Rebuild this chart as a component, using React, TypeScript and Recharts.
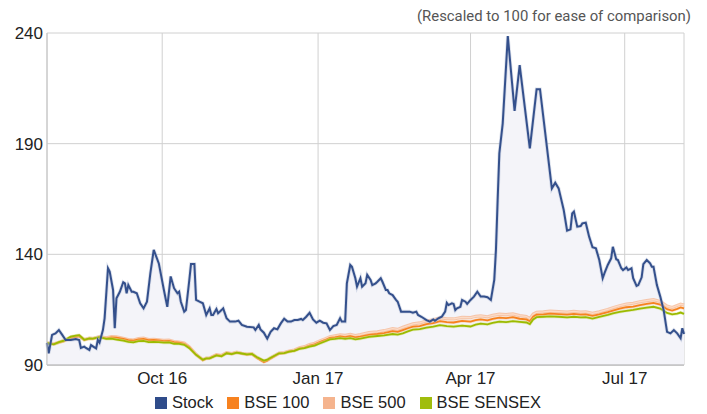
import React from 'react';
import { ComposedChart, Area, Line, XAxis, YAxis, CartesianGrid } from 'recharts';

// x values are calendar days counted from 25 Jul 2016
const stockDays = [
  0, 1, 3, 5, 7, 9, 11, 14, 17, 19, 20, 22, 23, 25, 26, 28, 29, 30, 31, 33, 34, 36, 37, 39, 40, 41, 43, 45, 46, 47,
  48, 50, 51, 53, 55, 57, 59, 61, 63, 66, 69, 71, 73, 75, 77, 78, 79, 81, 82, 84, 85, 87, 88, 90, 92, 94, 96, 97, 98,
  100, 101, 103, 104, 106, 108, 111, 113, 115, 118, 122, 123, 125, 126, 128, 130, 132, 134, 136, 138, 140, 142, 144,
  146, 148, 150, 151, 153, 155, 157, 159, 161, 163, 165, 167, 169, 171, 173, 174, 176, 177, 179, 180, 182, 183, 185,
  186, 188, 189, 191, 192, 194, 195, 197, 198, 200, 201, 202, 204, 206, 207, 209, 211, 214, 216, 218, 219, 221, 224,
  226, 228, 229, 231, 233, 235, 236, 237, 239, 240, 241, 242, 244, 245, 247, 248, 250, 252, 254, 256, 258, 260, 262,
  264, 265, 266, 267, 269, 272, 276, 279, 285, 289, 291, 298, 300, 302, 305, 307, 309, 310, 311, 313, 315, 316, 318,
  320, 322, 324, 326, 328, 329, 331, 333, 334, 336, 337, 339, 340, 342, 343, 345, 346, 348, 349, 351, 352, 354, 356,
  357, 358, 360, 362, 364, 366, 368, 370, 372, 374, 375, 376,
];
const stockValues = [
  100.0, 95.3, 103.6, 104.3, 105.8, 103.6, 101.3, 101.3, 101.7, 101.3, 97.7, 98.3, 97.7, 96.8, 99.0, 98.0, 97.5, 101.3,
  100.1, 105.8, 111.1, 133.7, 132.2, 123.9, 106.6, 120.1, 123.1, 127.4, 126.9, 122.4, 126.1, 123.1, 123.1, 122.4, 117.9,
  115.6, 118.6, 131.4, 142.0, 135.9, 123.9, 116.3, 130.0, 124.7, 122.4, 123.1, 118.6, 114.1, 114.8, 128.4, 135.6, 135.6,
  119.4, 118.6, 117.9, 112.6, 115.6, 112.6, 112.6, 115.3, 113.4, 114.8, 115.6, 111.1, 109.6, 109.6, 110.0, 108.1, 107.3,
  107.0, 105.8, 108.1, 106.1, 104.6, 101.9, 105.0, 106.6, 106.1, 108.8, 110.9, 109.6, 109.6, 110.3, 110.3, 110.8, 110.3,
  111.8, 113.6, 110.6, 109.1, 110.0, 109.1, 108.8, 105.8, 107.6, 108.1, 111.1, 109.6, 109.6, 126.9, 135.2, 134.4, 129.2,
  125.4, 129.2, 125.4, 126.9, 130.7, 128.4, 126.1, 126.9, 127.6, 129.2, 127.6, 123.9, 123.9, 122.4, 121.6, 119.4, 118.6,
  114.1, 114.1, 114.1, 113.6, 114.1, 112.6, 111.8, 110.3, 109.6, 110.6, 110.0, 111.1, 111.8, 114.1, 118.1, 117.1, 117.9,
  117.6, 114.8, 115.6, 116.3, 119.4, 118.6, 117.6, 119.4, 120.9, 123.1, 120.9, 120.9, 120.6, 119.4, 128.4, 142.0, 164.5,
  185.6, 199.2, 238.6, 204.8, 225.5, 187.9, 214.6, 214.6, 169.8, 172.4, 169.8, 160.0, 150.7, 151.3, 158.5, 159.3, 152.5,
  152.8, 154.0, 154.3, 148.0, 143.2, 142.7, 137.4, 129.2, 131.4, 135.2, 138.2, 143.4, 137.8, 137.4, 133.7, 132.9, 134.1,
  132.9, 133.7, 129.2, 125.7, 126.1, 129.6, 135.6, 137.4, 135.9, 134.4, 134.4, 126.1, 120.9, 114.8, 105.0, 104.3, 105.8,
  104.3, 102.1, 106.6, 104.0,
];

const indexDays = [
  0, 2, 4, 7, 10, 14, 17, 19, 22, 25, 27, 31, 35, 38, 41, 45, 48, 51, 54, 57, 60, 63, 66, 69, 72, 75, 78, 81, 84, 88,
  92, 94, 96, 100, 103, 106, 109, 112, 115, 118, 121, 124, 128, 130, 132, 137, 140, 143, 146, 149, 152, 155, 158, 161,
  164, 167, 170, 173, 176, 179, 182, 185, 190, 195, 199, 204, 207, 210, 213, 216, 220, 224, 228, 232, 236, 240, 245,
  250, 253, 256, 260, 263, 267, 271, 275, 279, 283, 285, 287, 289, 293, 297, 302, 307, 311, 315, 318, 322, 326, 331,
  334, 338, 342, 346, 350, 354, 358, 362, 366, 369, 372, 374, 376,
];
const bse100 = [
  100.0, 99.6, 99.4, 100.2, 100.8, 102.3, 102.7, 103.0, 101.3, 101.9, 101.8, 102.6, 102.0, 102.5, 102.4, 101.8, 101.2,
  101.0, 101.6, 101.8, 101.2, 101.3, 101.1, 100.8, 100.9, 100.3, 100.1, 99.6, 98.0, 94.6, 92.2, 92.9, 93.0, 94.5, 94.1,
  95.4, 95.0, 95.6, 95.1, 94.7, 94.9, 93.2, 91.4, 92.0, 93.0, 95.2, 95.4, 96.1, 96.5, 97.5, 97.9, 98.8, 99.3, 100.4,
  101.2, 102.2, 102.5, 102.9, 102.6, 103.0, 102.5, 102.8, 103.6, 104.0, 104.4, 105.3, 105.0, 105.8, 106.6, 107.3, 107.6,
  108.5, 108.9, 109.8, 109.4, 109.2, 109.9, 109.6, 110.3, 110.6, 110.2, 110.8, 111.4, 111.2, 111.6, 110.9, 110.6, 109.7,
  111.8, 112.7, 112.9, 113.2, 113.0, 112.8, 113.1, 112.8, 112.9, 112.2, 112.9, 113.9, 114.6, 115.5, 116.1, 116.4, 117.1,
  117.6, 118.1, 117.3, 115.2, 114.6, 115.4, 116.0, 115.6,
];
const bse500 = [
  100.0, 99.7, 99.5, 100.3, 101.0, 102.5, 102.9, 103.2, 101.5, 102.1, 102.0, 102.8, 102.3, 102.8, 102.7, 102.1, 101.5,
  101.3, 101.9, 102.1, 101.5, 101.6, 101.4, 101.1, 101.2, 100.6, 100.4, 99.9, 98.2, 94.8, 92.4, 93.1, 93.2, 94.7, 94.3,
  95.6, 95.2, 95.8, 95.3, 94.9, 95.1, 93.4, 91.6, 92.2, 93.2, 95.4, 95.6, 96.3, 96.8, 97.8, 98.3, 99.2, 99.8, 100.9,
  101.8, 102.8, 103.2, 103.6, 103.4, 103.8, 103.3, 103.7, 104.6, 105.0, 105.5, 106.4, 106.1, 107.0, 107.8, 108.6, 109.0,
  109.9, 110.4, 111.3, 110.9, 110.8, 111.5, 111.4, 112.0, 112.2, 111.8, 112.4, 113.0, 112.8, 113.1, 112.3, 111.9, 110.9,
  113.0, 113.8, 114.0, 114.3, 114.1, 113.9, 114.2, 113.9, 114.0, 113.3, 114.0, 115.1, 115.9, 116.8, 117.5, 117.9, 118.6,
  119.1, 119.5, 118.7, 116.6, 116.0, 116.9, 117.5, 117.1,
];
const sensex = [
  100.0, 99.5, 99.3, 100.3, 101.0, 102.8, 103.3, 103.5, 101.4, 102.0, 101.9, 102.6, 101.8, 101.9, 101.5, 101.0, 100.4,
  100.2, 100.8, 100.9, 100.3, 100.4, 100.3, 100.1, 100.2, 99.6, 99.5, 99.1, 97.6, 94.6, 92.4, 93.0, 93.0, 94.3, 93.9,
  95.3, 94.9, 95.6, 95.2, 94.8, 95.0, 93.5, 92.0, 92.4, 93.3, 95.3, 95.4, 96.0, 96.4, 97.3, 97.6, 98.3, 98.8, 99.7,
  100.6, 101.6, 101.8, 102.1, 101.8, 102.1, 101.6, 101.9, 102.7, 103.1, 103.4, 104.0, 103.7, 104.3, 105.2, 106.0, 106.2,
  106.9, 107.3, 108.0, 107.6, 107.3, 107.8, 107.4, 108.2, 108.7, 108.4, 109.0, 109.6, 109.4, 109.8, 109.5, 109.2, 108.5,
  110.6, 111.6, 111.8, 112.0, 111.8, 111.5, 111.8, 111.5, 111.6, 111.0, 111.7, 112.6, 113.3, 114.0, 114.5, 114.9, 115.5,
  115.9, 116.3, 115.5, 113.5, 112.9, 113.2, 113.7, 113.1,
];

const xTickDays = [68, 160, 250, 341];
const xTickLabels = ['Oct 16', 'Jan 17', 'Apr 17', 'Jul 17'];
const yTicks = [90, 140, 190, 240];

const legendItems = [
  { name: 'Stock', color: '#2f4c8a' },
  { name: 'BSE 100', color: '#f7821f' },
  { name: 'BSE 500', color: '#f5b48e' },
  { name: 'BSE SENSEX', color: '#a0bd0c' },
];

const toSeries = (days: number[], values: number[]) => days.map((d, i) => ({ day: d, v: values[i] }));

const stockData = toSeries(stockDays, stockValues);
const bse100Data = toSeries(indexDays, bse100);
const bse500Data = toSeries(indexDays, bse500);
const sensexData = toSeries(indexDays, sensex);

const FONT = '"Liberation Sans", Arial, Helvetica, sans-serif';

export default function App() {
  const common = {
    dataKey: 'v',
    type: 'linear' as const,
    dot: false,
    activeDot: false,
    isAnimationActive: false,
    legendType: 'none' as const,
  };

  return (
    <div style={{ position: 'absolute', left: 0, top: 0, width: 707, height: 414, background: '#fff' }}>
      <ComposedChart width={707} height={414} margin={{ top: 33, right: 23, bottom: 25, left: 0 }}>
        <CartesianGrid stroke="#d0d0d0" strokeWidth={1} />
        <XAxis
          dataKey="day"
          type="number"
          domain={[0, 376]}
          ticks={xTickDays}
          tickFormatter={(d: number) => xTickLabels[xTickDays.indexOf(d)] ?? ''}
          tickLine={false}
          tickSize={0}
          tickMargin={7}
          height={24}
          axisLine={{ stroke: '#a8a8a8' }}
          tick={{ fill: '#222', fontSize: 17, fontFamily: FONT }}
        />
        <YAxis
          type="number"
          domain={[90, 240]}
          ticks={yTicks}
          width={47}
          tickLine={false}
          tickSize={0}
          tickMargin={4}
          axisLine={{ stroke: '#c4c4c4' }}
          tick={{ fill: '#222', fontSize: 17, fontFamily: FONT }}
        />
        <Area
          data={stockData}
          dataKey="v"
          type="linear"
          stroke="none"
          fill="#f4f4f9"
          fillOpacity={1}
          isAnimationActive={false}
          legendType="none"
          activeDot={false}
        />
        <Line {...common} data={bse500Data} stroke="#f5b48e" strokeWidth={3.2} strokeOpacity={0.75} />
        <Line {...common} data={bse500Data} stroke="#fcdcc8" strokeWidth={1.2} />
        <Line {...common} data={bse100Data} stroke="#fbbd8c" strokeWidth={3.2} strokeOpacity={0.45} />
        <Line {...common} data={bse100Data} stroke="#f7821f" strokeWidth={1.8} />
        <Line {...common} data={sensexData} stroke="#d4e38a" strokeWidth={3.2} strokeOpacity={0.5} />
        <Line {...common} data={sensexData} stroke="#9cba00" strokeWidth={1.8} />
        <Line {...common} data={stockData} stroke="#a7b3d0" strokeWidth={3.6} strokeOpacity={0.4} />
        <Line {...common} data={stockData} stroke="#34508c" strokeWidth={2} />
      </ComposedChart>

      <svg width={707} height={30} style={{ position: 'absolute', left: 0, top: 0 }}>
        <text
          x={691}
          y={21}
          textAnchor="end"
          fill="#555"
          fontSize={15}
          fontFamily="Roboto, sans-serif"
          textLength={274}
          lengthAdjust="spacingAndGlyphs"
        >
          (Rescaled to 100 for ease of comparison)
        </text>
      </svg>

      <div
        style={{
          position: 'absolute',
          left: 155,
          top: 393,
          display: 'flex',
          alignItems: 'center',
          fontFamily: FONT,
          fontSize: 16.5,
          color: '#222',
          whiteSpace: 'nowrap',
          lineHeight: '19px',
        }}
      >
        {legendItems.map((item, i) => (
          <div key={item.name} style={{ display: 'flex', alignItems: 'center', marginLeft: i === 0 ? 0 : 14 }}>
            <span style={{ width: 12, height: 12, background: item.color, display: 'inline-block', marginRight: 5 }} />
            <span>{item.name}</span>
          </div>
        ))}
      </div>
    </div>
  );
}
